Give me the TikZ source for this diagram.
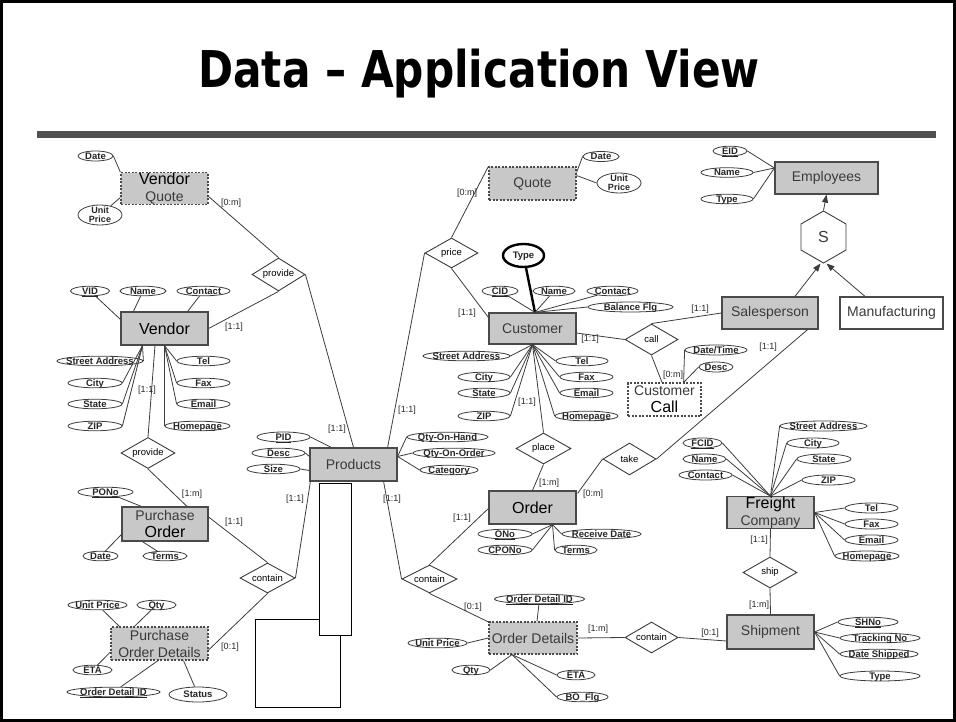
\documentclass[tikz,border=0pt]{standalone}
\usepackage{fontspec}
\usepackage{graphicx}
\setmainfont{Liberation Sans}
\newfontfamily\titlefont{DejaVu Sans}
\usetikzlibrary{shapes.geometric,arrows.meta,calc}
\definecolor{entfill}{HTML}{C8C8C8}
\definecolor{entline}{HTML}{4A4A4A}
\definecolor{enttext}{HTML}{3A3A3A}
\definecolor{linec}{HTML}{3C3C3C}
\definecolor{barc}{HTML}{505050}
\newcommand\attxt[1]{\makebox[0pt]{#1}}
\newcommand\attkey[1]{\makebox[0pt]{\underline{#1}}}
\newcommand\bigword[1]{{\fontsize{16}{17}\selectfont\color{black}#1}}
\tikzset{
 ent/.style 2 args={rectangle, draw=entline, fill=entfill, line width=1.2pt, minimum width=#1pt, minimum height=#2pt, inner sep=0pt, align=center, text=enttext, font=\fontsize{14}{17}\selectfont},
 weak/.style={dash pattern=on 2pt off 1.5pt},
 diam/.style 2 args={diamond, draw=linec, fill=white, line width=0.9pt, minimum width=#1pt, minimum height=#2pt, inner sep=0pt, text=black, font=\fontsize{9.5}{10}\selectfont},
 attr/.style 2 args={ellipse, draw=linec, fill=white, line width=0.8pt, minimum width=#1pt, minimum height=#2pt, inner sep=0pt, text height=6.8pt, text depth=0pt, text=black!85, font=\bfseries\fontsize{9.5}{10}\selectfont},
 twol/.style={font=\bfseries\fontsize{9}{9.5}\selectfont, align=center, inner sep=0pt, text=black!85, text height={}, text depth={}},
 card/.style={font=\fontsize{9}{10}\selectfont, text=black!85, inner sep=0pt},
 conn/.style={draw=linec, line width=0.8pt},
 isa/.style={conn, -{Triangle[length=8pt,width=6pt]}},
}
\begin{document}
\begin{tikzpicture}[x=1pt,y=-1pt]
\useasboundingbox (0,0) rectangle (956,722);
\draw[line width=3pt] (1.5,1.5) rectangle (954.5,720.5);
\node[font=\titlefont\bfseries\fontsize{50.7}{52}\selectfont, anchor=base, inner sep=0pt] (title) at (479,88) {\scalebox{0.834}[1]{Data – Application View}};
\fill[barc] (37,131) rectangle (936,138);

% odd white rectangles
\draw[line width=1pt, fill=white] (255,619) rectangle (340,707);
\draw[line width=1pt, fill=white] (319,483) rectangle (351,635);

% entities
\node[ent={87}{31}, weak] (vq) at (164.5,188.5) {\bigword{Vendor}\\Quote};
\node[ent={87}{33}, weak] (quote) at (532.5,183.5) {Quote};
\node[ent={103}{32}] (emp) at (826.5,178) {Employees};
\node[ent={96}{32}] (sales) at (770,313) {Salesperson};
\node[ent={103}{32}, fill=white] (manu) at (891.5,313) {Manufacturing};
\node[ent={87}{31}] (cust) at (532.5,328.5) {Customer};
\node[ent={73}{33}, weak, fill=white] (ccall) at (664.5,399.5) {Customer\\\bigword{Call}};
\node[ent={87}{33}] (vendor) at (164.5,328.5) {\bigword{Vendor}};
\node[ent={86}{34}] (po) at (165,524) {Purchase\\\bigword{Order}};
\node[ent={97}{33}, weak] (pod) at (159.5,643.5) {Purchase\\Order Details};
\node[ent={87}{33}] (prod) at (353.5,464.5) {Products};
\node[ent={87}{33}] (order) at (532.5,507.5) {\bigword{Order}};
\node[ent={88}{32}, weak] (od) at (533,638) {Order Details};
\node[ent={87}{31}] (freight) at (770.5,512.5) {\bigword{Freight}\\Company};
\node[ent={87}{34}] (ship) at (770.5,632) {Shipment};

% relationships
\node[diam={53}{33}] (prov1) at (278.5,274.5) {\attxt{provide}};
\node[diam={53}{30}] (price) at (451.5,253) {\attxt{price}};
\node[diam={53}{31}] (call) at (651.5,339.5) {\attxt{call}};
\node[diam={54}{31}] (prov2) at (148,453) {\attxt{provide}};
\node[diam={55}{30}] (cont1) at (267.5,578) {\attxt{contain}};
\node[diam={55}{31}] (place) at (543.5,448.5) {\attxt{place}};
\node[diam={53}{32}] (take) at (629.5,459) {\attxt{take}};
\node[diam={55}{28}] (cont2) at (429.5,579) {\attxt{contain}};
\node[diam={53}{31}] (cont3) at (651.5,637.5) {\attxt{contain}};
\node[diam={54}{31}] (shipd) at (770,572.5) {\attxt{ship}};
\node[regular polygon, regular polygon sides=6, shape border rotate=30, draw=linec, line width=0.9pt, minimum size=52pt, inner sep=0pt, font=\fontsize{16}{16}\selectfont, text=enttext] (hex) at (823.5,237) {S};

% attributes
\node[attr={35}{10}] (vqdate) at (95.5,156) {\attxt{Date}};
\node[attr={44}{20}, label={[twol]center:Unit\\Price}] (vqup) at (100,215) {};
\node[attr={36}{10}] (qdate) at (601,156.5) {\attxt{Date}};
\node[attr={44}{20}, label={[twol]center:Unit\\Price}] (qup) at (619,183) {};
\node[attr={34}{9}] (eid) at (730,151) {\attkey{EID}};
\node[attr={52}{9}] (ename) at (727,172.5) {\attxt{Name}};
\node[attr={52}{9}] (etype) at (727,199) {\attxt{Type}};
\node[attr={41}{23}, line width=2.4pt, draw=black] (ctype) at (523.5,255.5) {\attxt{Type}};
\node[attr={36}{9}] (cid) at (500,291) {\attkey{CID}};
\node[attr={42}{9}] (cname) at (554,291) {\attxt{Name}};
\node[attr={51}{9}] (ccontact) at (612.5,291) {\attxt{Contact}};
\node[attr={85}{10}] (cbal) at (630.5,307) {\attxt{Balance Flg}};
\node[attr={87}{9}] (csa) at (466.5,356) {\attxt{Street Address}};
\node[attr={52}{9}] (ccity) at (484,377) {\attxt{City}};
\node[attr={52}{9}] (cstate) at (484,393) {\attxt{State}};
\node[attr={52}{9}] (czip) at (484,416) {\attxt{ZIP}};
\node[attr={52}{9}] (ctel) at (582,361) {\attxt{Tel}};
\node[attr={53}{9}] (cfax) at (586.5,377) {\attxt{Fax}};
\node[attr={53}{9}] (cemail) at (586.5,393) {\attxt{Email}};
\node[attr={63}{9}] (chome) at (586.5,416) {\attxt{Homepage}};
\node[attr={62}{10}] (cdt) at (716,350) {\attxt{Date/Time}};
\node[attr={34}{10}] (cdesc) at (716,367) {\attxt{Desc}};
\node[attr={39}{9}] (vid) at (90,291) {\attkey{VID}};
\node[attr={46}{9}] (vname) at (143,291) {\attxt{Name}};
\node[attr={53}{9}] (vcontact) at (203.5,291) {\attxt{Contact}};
\node[attr={86}{9}] (vsa) at (100,361) {\attxt{Street Address}};
\node[attr={54}{9}] (vcity) at (95,383) {\attxt{City}};
\node[attr={54}{9}] (vstate) at (95,404) {\attxt{State}};
\node[attr={54}{9}] (vzip) at (95,426) {\attxt{ZIP}};
\node[attr={53}{9}] (vtel) at (203.5,361) {\attxt{Tel}};
\node[attr={53}{9}] (vfax) at (203.5,383) {\attxt{Fax}};
\node[attr={53}{9}] (vemail) at (203.5,404) {\attxt{Email}};
\node[attr={65}{9}] (vhome) at (197.5,426) {\attxt{Homepage}};
\node[attr={55}{9}] (pono) at (105.5,492) {\attkey{PONo}};
\node[attr={35}{9}] (podate) at (100.5,556) {\attxt{Date}};
\node[attr={44}{9}] (poterms) at (165,556) {\attxt{Terms}};
\node[attr={59}{9}] (podup) at (97.5,605) {\attxt{Unit Price}};
\node[attr={39}{9}] (podqty) at (156.5,605) {\attxt{Qty}};
\node[attr={39}{9}] (podeta) at (92.5,670) {\attxt{ETA}};
\node[attr={93}{9}] (podid) at (113.5,692) {\attkey{Order Detail ID}};
\node[attr={58}{15}] (podst) at (198,694.5) {\attxt{Status}};
\node[attr={53}{10}] (pid) at (283.5,437) {\attkey{PID}};
\node[attr={53}{9}] (pdesc) at (278.5,453) {\attxt{Desc}};
\node[attr={53}{9}] (psize) at (273.5,469) {\attxt{Size}};
\node[attr={81}{9}] (pqoh) at (447.5,437) {\attxt{Qty-On-Hand}};
\node[attr={82}{9}] (pqoo) at (454,453) {\attxt{Qty-On-Order}};
\node[attr={58}{9}] (pcat) at (449,470) {\attxt{Category}};
\node[attr={54}{9}] (ono) at (505,534) {\attkey{ONo}};
\node[attr={54}{9}] (ocpono) at (505,550) {\attxt{CPONo}};
\node[attr={79}{9}] (ordate) at (601.5,534) {\attxt{Receive Date}};
\node[attr={42}{9}] (oterms) at (576,550) {\attxt{Terms}};
\node[attr={90}{9}] (odid) at (539.5,599) {\attkey{Order Detail ID}};
\node[attr={59}{9}] (odup) at (437.5,643) {\attxt{Unit Price}};
\node[attr={38}{9}] (odqty) at (471,670) {\attxt{Qty}};
\node[attr={38}{9}] (odeta) at (576,675) {\attxt{ETA}};
\node[attr={51}{9}] (odbo) at (582.5,697) {\attxt{BO\_Flg}};
\node[attr={39}{10}] (ffcid) at (702.5,443) {\attkey{FCID}};
\node[attr={43}{10}] (fname) at (704.5,459) {\attxt{Name}};
\node[attr={53}{10}] (fcontact) at (705.5,475) {\attxt{Contact}};
\node[attr={87}{10}] (fsa) at (823.5,426) {\attxt{Street Address}};
\node[attr={52}{10}] (fcity) at (813,443) {\attxt{City}};
\node[attr={54}{10}] (fstate) at (824,459) {\attxt{State}};
\node[attr={53}{10}] (fzip) at (828.5,480) {\attxt{ZIP}};
\node[attr={53}{10}] (ftel) at (871.5,508) {\attxt{Tel}};
\node[attr={53}{10}] (ffax) at (871.5,524) {\attxt{Fax}};
\node[attr={53}{10}] (femail) at (871.5,540) {\attxt{Email}};
\node[attr={64}{10}] (fhome) at (867,556) {\attxt{Homepage}};
\node[attr={60}{9}] (shno) at (868,622) {\attkey{SHNo}};
\node[attr={80}{9}] (strack) at (880,638) {\attxt{Tracking No}};
\node[attr={78}{9}] (sdate) at (879,654) {\attxt{Date Shipped}};
\node[attr={80}{10}] (stype) at (880,676) {\attxt{Type}};

% convergence points
\coordinate (custT) at ($(cust.north)+(2.5,0)$);
\coordinate (custB) at (cust.south);
\coordinate (empL) at ($(emp.west)+(0,-10)$);
\coordinate (vB1) at ($(vendor.south)+(-22,0)$);
\coordinate (vB2) at (vendor.south);
\coordinate (oB) at ($(order.south)+(20,0)$);
\coordinate (odB) at ($(od.south)+(-21,0)$);
\coordinate (ccT) at ($(ccall.north east)+(-18,0)$);
\coordinate (prodR) at ($(prod.east)+(0,-8)$);

% attribute links
\draw[conn] (vqdate.east) -- (vq.north west);
\draw[conn] (vqup) -- ($(vq.west)+(0,9)$);
\draw[conn] (qdate.west) -- ($(quote.north east)+(0,6)$);
\draw[conn] (qup.west) -- ($(quote.east)+(0,-8)$);
\foreach \n in {eid,ename,etype} \draw[conn] (\n.east) -- (empL);
\draw[line width=2.4pt] (ctype) -- (custT);
\foreach \n in {cid,cname,ccontact} \draw[conn] (\n) -- (custT);
\draw[conn] (cbal.west) -- (custT);
\foreach \n in {csa,ccity,cstate,czip} \draw[conn] (\n.east) -- (custB);
\foreach \n in {ctel,cfax,cemail,chome} \draw[conn] (\n.west) -- (custB);
\draw[conn] (cdt.west) -- (ccT);
\draw[conn] (cdesc.west) -- (ccT);
\draw[conn] (vid) -- ($(vendor.north west)+(0,8)$);
\draw[conn] (vname) -- ($(vendor.north west)+(13,0)$);
\draw[conn] (vcontact) -- ($(vendor.north east)+(-21,0)$);
\foreach \n in {vsa,vcity,vstate,vzip} \draw[conn] (\n.east) -- (vB1);
\foreach \n in {vtel,vfax,vemail,vhome} \draw[conn] (\n.west) -- (vB2);
\draw[conn] (pono) -- ($(po.north west)+(20,0)$);
\draw[conn] (podate) -- ($(po.south west)+(0,-7)$);
\draw[conn] (poterms) -- ($(po.south west)+(21,0)$);
\draw[conn] (podup) -- ($(pod.north west)+(9,0)$);
\draw[conn] (podqty) -- ($(pod.north west)+(24,0)$);
\draw[conn] (podeta) -- ($(pod.west)+(0,8.5)$);
\draw[conn] (podid) -- ($(pod.south)+(-1.5,0)$);
\draw[conn] (podst) -- ($(pod.south)+(24,0)$);
\draw[conn] (pid.east) -- ($(prod.north west)+(22,0)$);
\draw[conn] (pdesc.east) -- ($(prod.west)+(0,-8)$);
\draw[conn] (psize.east) -- ($(prod.west)+(0,6)$);
\foreach \n in {pqoh,pqoo,pcat} \draw[conn] (\n.west) -- (prodR);
\foreach \n in {ono,ocpono} \draw[conn] (\n.east) -- (oB);
\foreach \n in {ordate,oterms} \draw[conn] (\n.west) -- (oB);
\draw[conn] (odid) -- ($(od.north)+(4,0)$);
\draw[conn] (odup.east) -- (od.west);
\draw[conn] (odqty.east) -- (odB);
\foreach \n in {odeta,odbo} \draw[conn] (\n.west) -- (odB);
\foreach \n in {ffcid,fname,fcontact} \draw[conn] (\n.east) -- (freight.north);
\foreach \n in {fsa,fcity,fstate,fzip} \draw[conn] (\n.west) -- (freight.north);
\foreach \n in {ftel,ffax,femail,fhome} \draw[conn] (\n.west) -- (freight.east);
\foreach \n in {shno,strack,sdate,stype} \draw[conn] (\n.west) -- (ship.east);

% relationship links and cardinalities
\draw[conn] ($(vq.east)+(0,8)$) -- (prov1.north);
\node[card] (l1) at (231,203) {[0:m]};
\draw[conn] (prov1.south) -- (vendor.east);
\node[card] (l2) at (234,327) {[1:1]};
\draw[conn] (prov1.east) -- (prod.north);
\node[card] (l3) at (337,429) {[1:1]};
\draw[conn] (price.west) -- ($(prod.north east)+(-10,0)$);
\node[card] (l4) at (407,410) {[1:1]};
\draw[conn] (price.north) -- (quote.north west);
\node[card] (l5) at (467,193) {[0:m]};
\draw[conn] (price.south) -- ($(cust.north west)+(0,5)$);
\node[card] (l6) at (467,313) {[1:1]};
\draw[conn] ($(cust.east)+(0,4.5)$) -- (call.west);
\node[card] (l7) at (590,339) {[1:1]};
\draw[conn] (call.north) -- (sales.west);
\node[card] (l8) at (700,309) {[1:1]};
\draw[conn] (call.south) -- ($(ccall.north)+(-2.5,0)$);
\node[card] (l9) at (673,375) {[0:m]};
\draw[conn] (custB) -- (place.north);
\node[card] (l10) at (527,402) {[1:1]};
\draw[conn] (place.south) -- (order.north);
\node[card] (l11) at (549,483) {[1:m]};
\draw[conn] (take.west) -- ($(order.north east)+(1,3)$);
\node[card] (l12) at (593,494) {[0:m]};
\draw[conn] (take.east) -- ($(sales.south east)+(-11,0)$);
\node[card] (l13) at (768,347) {[1:1]};
\draw[conn] ($(prod.south west)+(1,0)$) -- (cont1.east);
\node[card] (l14) at (295,499) {[1:1]};
\draw[conn] ($(po.east)+(0,-7)$) -- (cont1.north);
\node[card] (l15) at (234,522) {[1:1]};
\draw[conn] (cont1.south) -- ($(pod.east)+(0,6.5)$);
\node[card] (l16) at (230,647) {[0:1]};
\draw[conn] ($(vendor.south)+(-9.5,0)$) -- (prov2.north);
\node[card] (l17) at (147,390) {[1:1]};
\draw[conn] (prov2.south) -- ($(po.north)+(22,0)$);
\node[card] (l18) at (192,494) {[1:m]};
\draw[conn] ($(prod.south east)+(-14,0)$) -- (cont2.west);
\node[card] (l19) at (392,499) {[1:1]};
\draw[conn] ($(order.west)+(0,1)$) -- (cont2.north);
\node[card] (l20) at (462,518) {[1:1]};
\draw[conn] (cont2.south) -- ($(od.north west)+(1,1)$);
\node[card] (l21) at (473,607) {[0:1]};
\draw[conn] (od.east) -- (cont3.west);
\node[card] (l22) at (598,629) {[1:m]};
\draw[conn] (cont3.east) -- ($(ship.west)+(0,9)$);
\node[card] (l23) at (710,633) {[0:1]};
\draw[conn] (freight.south) -- (shipd.north);
\node[card] (l24) at (759,540) {[1:1]};
\draw[conn] (shipd.south) -- (ship.north);
\node[card] (l25) at (759,605) {[1:m]};

% specialisation
\draw[isa] (hex.north) -- (emp.south);
\draw[isa] ($(sales.north)+(25,0)$) -- ($(hex.south)+(-3,0)$);
\draw[isa] ($(manu.north)+(-26.5,0)$) -- ($(hex.south)+(3,0)$);
\end{tikzpicture}
\end{document}
